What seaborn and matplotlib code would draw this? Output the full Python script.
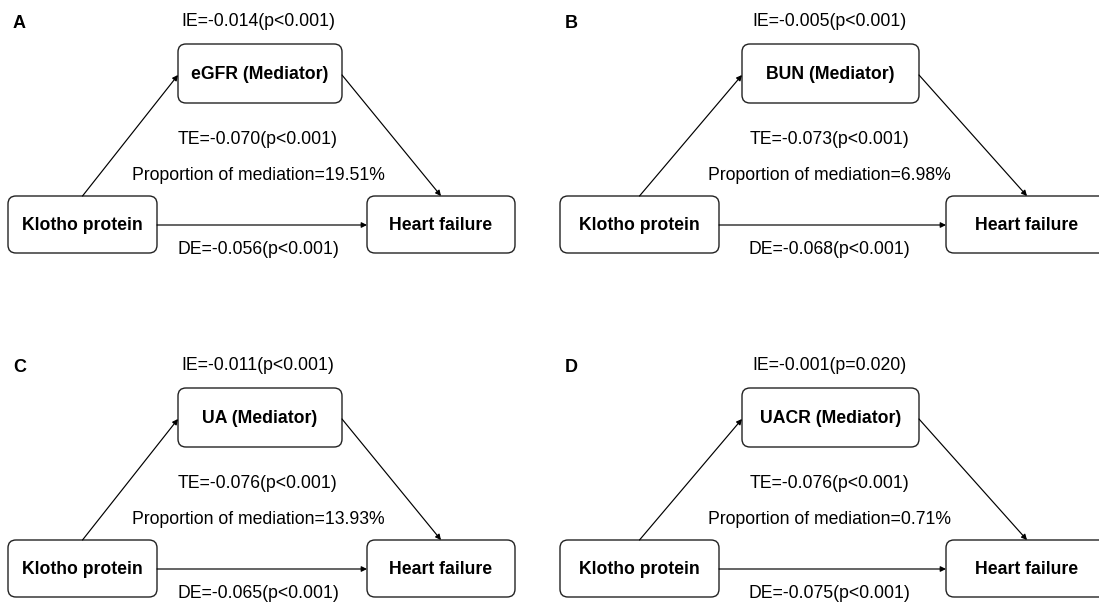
import matplotlib
matplotlib.use("Agg")
import matplotlib.pyplot as plt
from matplotlib.patches import FancyBboxPatch
import seaborn as sns

# mediation results, one entry per panel
panel_labels = ["A", "B", "C", "D"]
mediators = ["eGFR", "BUN", "UA", "UACR"]
ie_values = [-0.014, -0.005, -0.011, -0.001]
ie_p = ["p<0.001", "p<0.001", "p<0.001", "p=0.020"]
te_values = [-0.070, -0.073, -0.076, -0.076]
te_p = ["p<0.001", "p<0.001", "p<0.001", "p<0.001"]
de_values = [-0.056, -0.068, -0.065, -0.075]
de_p = ["p<0.001", "p<0.001", "p<0.001", "p<0.001"]
proportions = [19.51, 6.98, 13.93, 0.71]
exposure = "Klotho protein"
outcome = "Heart failure"

sns.set_theme(style="white")
plt.rcParams["font.family"] = ["Liberation Sans", "DejaVu Sans"]
plt.rcParams["text.color"] = "black"

# layout in pixel units (left / right column, top / bottom row)
cols = [
    dict(label_x=13, k=(8, 157), m=(178, 342), h=(367, 515), cx=258),
    dict(label_x=565, k=(560, 719), m=(742, 919), h=(946, 1108), cx=829),
]
row_dy = [0, 344]

fig = plt.figure(figsize=(10.99, 6.02), dpi=100)
ax = fig.add_axes([0, 0, 1, 1])
ax.set_xlim(0, 1099)
ax.set_ylim(602, 0)
ax.axis("off")


def box(x0, x1, y0, y1, text):
    p = FancyBboxPatch((x0, y0), x1 - x0, y1 - y0,
                       boxstyle="round,pad=0,rounding_size=8",
                       facecolor="white", edgecolor="#222222", lw=1.0)
    ax.add_patch(p)
    ax.text((x0 + x1) / 2, (y0 + y1) / 2 + 1, text, ha="center", va="center",
            fontsize=12.7, fontweight="bold", color="black")


def arrow(x0, y0, x1, y1):
    ax.annotate("", xy=(x1, y1), xytext=(x0, y0),
                arrowprops=dict(arrowstyle="-|>", lw=0.85, color="black",
                                mutation_scale=8, shrinkA=0, shrinkB=0))


for i, lab in enumerate(panel_labels):
    c = cols[i % 2]
    dy = row_dy[i // 2]
    by0, by1 = 196 + dy, 253 + dy
    my0, my1 = 44 + dy, 103 + dy
    kc = sum(c["k"]) / 2
    hc = sum(c["h"]) / 2

    ax.text(c["label_x"], 23 + dy, lab, ha="left", va="center",
            fontsize=13, fontweight="bold", color="black")
    ax.text(c["cx"], 22 + dy, f"IE={ie_values[i]:.3f}({ie_p[i]})",
            ha="center", va="center", fontsize=12.7, color="black")
    ax.text(c["cx"], 140 + dy, f"TE={te_values[i]:.3f}({te_p[i]})",
            ha="center", va="center", fontsize=12.7, color="black")
    ax.text(c["cx"], 176 + dy, f"Proportion of mediation={proportions[i]:.2f}%",
            ha="center", va="center", fontsize=12.7, color="black")
    ax.text(c["cx"], 249 + dy, f"DE={de_values[i]:.3f}({de_p[i]})",
            ha="center", va="center", fontsize=12.7, color="black")

    arrow(kc, by0, c["m"][0], 75 + dy)
    arrow(c["m"][1], 75 + dy, hc, by0)
    arrow(c["k"][1], 225 + dy, c["h"][0], 225 + dy)

    box(c["k"][0], c["k"][1], by0, by1, exposure)
    box(c["m"][0], c["m"][1], my0, my1, f"{mediators[i]} (Mediator)")
    box(c["h"][0], c["h"][1], by0, by1, outcome)

fig.savefig("out.png", dpi=100)
